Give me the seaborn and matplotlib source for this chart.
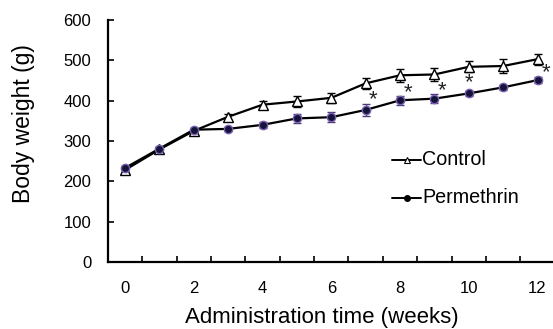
import pandas as pd
import numpy as np
import matplotlib
matplotlib.use('Agg')
import matplotlib.pyplot as plt
import seaborn as sns

weeks = [0, 1, 2, 3, 4, 5, 6, 7, 8, 9, 10, 11, 12]
control = [228, 279, 325, 360, 390, 398, 407, 443, 463, 465, 484, 486, 503]
control_se = [6, 6, 6, 8, 10, 14, 12, 14, 16, 16, 14, 18, 14]
perm = [233, 281, 328, 330, 340, 356, 359, 377, 401, 405, 418, 433, 451]
perm_se = [5, 5, 5, 5, 8, 11, 12, 14, 11, 11, 7, 6, 8]
star_weeks = [7, 8, 9, 10, 12]
star_dx = [0.2, 0.23, 0.22, 0.0, 0.25]
star_dy = [25, 20, 19, 26, 18]
xtick_labels = ['0', '2', '4', '6', '8', '10', '12']

sns.set_style('ticks', {'text.color': 'black', 'axes.labelcolor': 'black',
                        'xtick.color': 'black', 'ytick.color': 'black',
                        'axes.edgecolor': 'black'})
plt.rcParams['font.family'] = ['Liberation Sans', 'DejaVu Sans']

df = pd.DataFrame({'week': weeks * 2,
                   'weight': control + perm,
                   'group': ['Control'] * 13 + ['Permethrin'] * 13})

fig = plt.figure(figsize=(5.53, 3.29), dpi=100)
ax = fig.add_axes([0.195, 0.204, 0.805, 0.735])

ax.errorbar(weeks, control, yerr=control_se, fmt='none', ecolor='black',
            elinewidth=1, capsize=3, capthick=1, zorder=2)
ax.errorbar(weeks, perm, yerr=perm_se, fmt='none', ecolor='#4b3a78',
            elinewidth=1, capsize=3, capthick=1, zorder=2)

sns.lineplot(data=df, x='week', y='weight', hue='group', style='group',
             palette={'Control': 'black', 'Permethrin': 'black'},
             markers={'Control': '^', 'Permethrin': 'o'}, dashes=False,
             linewidth=1.6, ax=ax, legend=False, zorder=3)
for ln in ax.get_lines():
    if ln.get_marker() == '^':
        ln.set_markerfacecolor('white')
        ln.set_markeredgecolor('black')
        ln.set_markersize(7.5)
        ln.set_markeredgewidth(1)
    elif ln.get_marker() == 'o':
        ln.set_markerfacecolor('#141438')
        ln.set_markeredgecolor('#7a5fb0')
        ln.set_markersize(6)
        ln.set_markeredgewidth(1)

for w, dx, dy in zip(star_weeks, star_dx, star_dy):
    ax.text(w + dx, perm[w] + dy, '*', fontsize=16, color='#222222',
            ha='center', va='center')

# legend drawn by hand
ax.plot([7.78, 8.6], [253, 253], color='black', lw=1.4)
ax.plot([8.19], [253], marker='^', ms=5, mfc='white', mec='black', mew=0.8)
ax.text(8.65, 253, 'Control', fontsize=14.2, va='center')
ax.plot([7.78, 8.6], [159, 159], color='black', lw=1.4)
ax.plot([8.19], [159], marker='o', ms=4, color='black')
ax.text(8.65, 159, 'Permethrin', fontsize=14.2, va='center')

ax.set_xlim(-0.5, 12.45)
ax.set_ylim(0, 600)
ax.set_xticks(range(0, 13, 2))
ax.set_xticklabels(xtick_labels)
ax.set_xticks(np.arange(0.5, 12, 1), minor=True)
ax.tick_params(axis='x', which='major', length=0, pad=14, labelsize=12)
ax.tick_params(axis='x', which='minor', direction='in', length=4, width=1.2)
ax.set_yticks(range(0, 601, 100))
ax.tick_params(axis='y', direction='in', length=4, width=1.2, labelsize=12, pad=12)

ax.set_xlabel('Administration time (weeks)', fontsize=16)
ax.xaxis.set_label_coords((321 - 107) / 446, -0.185)
ax.set_ylabel('Body weight (g)', fontsize=16.5)
ax.yaxis.set_label_coords(-0.164, 0.574)
sns.despine(ax=ax)
for s in ['left', 'bottom']:
    ax.spines[s].set_linewidth(1.6)

fig.savefig('out.png', dpi=100)
